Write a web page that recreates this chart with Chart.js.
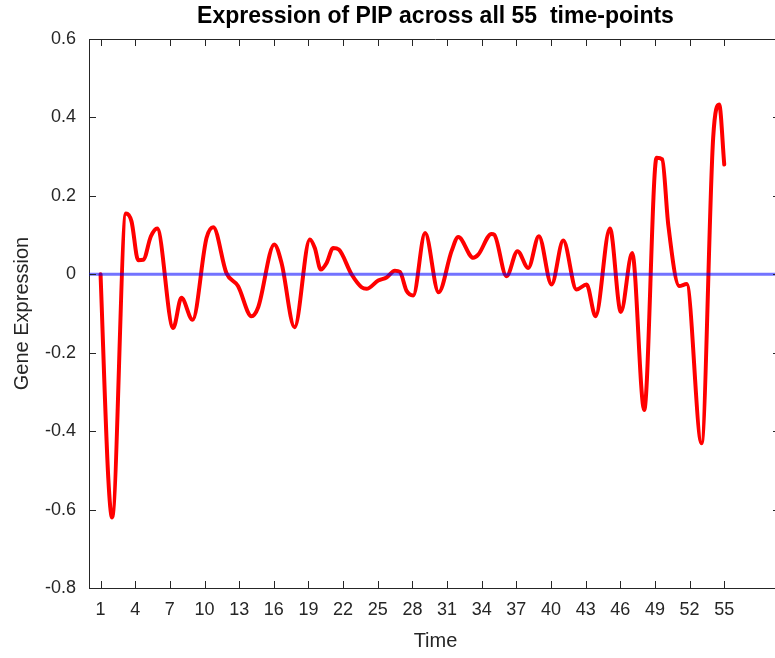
<!DOCTYPE html>
<html>
<head>
<meta charset="utf-8">
<script src="https://cdn.jsdelivr.net/npm/chart.js@4.4.0/dist/chart.umd.min.js"></script>
<style>
  html, body { margin: 0; padding: 0; background: #fff; overflow: hidden; }
  #wrap { width: 783px; height: 658px; }
</style>
</head>
<body>
<div id="wrap"><canvas id="myChart" width="783" height="658"></canvas></div>
<script>
// time points (at its turning points) and gene expression values
const timePoints = [1, 1.67, 2, 3.2, 3.68, 4.26, 4.7, 5.36, 5.9, 7.29, 8.0, 8.97, 10.18, 10.76, 11.9, 12.9,
  14.07, 14.65, 16.04, 16.67, 17.8, 19.12, 19.55, 20.07, 20.57, 21.14, 21.63, 22.73, 23.6, 24.03, 25.04,
  25.76, 26.48, 26.92, 27.49, 28.07, 29.1, 30.27, 31.39, 31.97, 33.27, 33.7, 34.85, 35.09, 36.15, 37.1,
  38.03, 38.95, 40.05, 41.06, 42.21, 43.08, 43.86, 45.1, 46.05, 47.03, 48.07, 49.14, 49.63, 50.15, 51.1,
  51.75, 53.03, 54.04, 54.56, 55]
const expression = [0, -0.52, -0.62, 0.155, 0.135, 0.036, 0.037, 0.097, 0.117, -0.137, -0.06, -0.116, 0.093, 0.12, 0.003, -0.03,
  -0.107, -0.084, 0.076, 0.029, -0.135, 0.089, 0.067, 0.012, 0.029, 0.067, 0.063, 0.0, -0.033, -0.037, -0.016,
  -0.008, 0.009, 0.006, -0.042, -0.054, 0.105, -0.046, 0.059, 0.095, 0.042, 0.05, 0.103, 0.101, -0.005, 0.059,
  0.016, 0.097, -0.026, 0.086, -0.039, -0.026, -0.107, 0.117, -0.096, 0.054, -0.346, 0.297, 0.293, 0.127, -0.03,
  -0.025, -0.431, 0.348, 0.433, 0.28]
const xTickLabels = [1, 4, 7, 10, 13, 16, 19, 22, 25, 28, 31, 34, 37, 40, 43, 46, 49, 52, 55]
const xMin = 0, xMax = 60
const yMin = -0.8, yMax = 0.6, yStep = 0.2
const baseline = 0

const textColor = '#262626'
const tickFont = { family: '"Liberation Sans", Arial, sans-serif', size: 18 }
const labelFont = { family: '"Liberation Sans", Arial, sans-serif', size: 20 }

// inward tick marks on all four sides plus the top/right box edges
const boxTicks = {
  id: 'boxTicks',
  afterDatasetsDraw(chart) {
    const { ctx, chartArea: a, scales: { x, y } } = chart
    const len = 7
    ctx.save()
    ctx.strokeStyle = textColor
    ctx.lineWidth = 1
    ctx.beginPath()
    ctx.moveTo(a.left, a.top + 0.5); ctx.lineTo(a.right, a.top + 0.5)
    ctx.moveTo(a.right - 0.5, a.top); ctx.lineTo(a.right - 0.5, a.bottom)
    x.ticks.forEach(t => {
      const px = Math.round(x.getPixelForValue(t.value)) + 0.5
      ctx.moveTo(px, a.bottom); ctx.lineTo(px, a.bottom - len)
      ctx.moveTo(px, a.top); ctx.lineTo(px, a.top + len)
    })
    y.ticks.forEach(t => {
      const py = Math.round(y.getPixelForValue(t.value)) + 0.5
      ctx.moveTo(a.left, py); ctx.lineTo(a.left + len, py)
      ctx.moveTo(a.right, py); ctx.lineTo(a.right - len - 2, py)
    })
    ctx.stroke()
    ctx.restore()
  }
}

new Chart(document.getElementById('myChart'), {
  type: 'line',
  data: {
    datasets: [{
      data: [{ x: xMin, y: baseline }, { x: xMax, y: baseline }],
      borderColor: 'rgba(0,0,255,0.55)',
      borderWidth: 3,
      pointRadius: 0,
      order: 0
    }, {
      data: timePoints.map((t, i) => ({ x: t, y: expression[i] })),
      borderColor: '#ff0000',
      borderWidth: 4,
      pointRadius: 0,
      cubicInterpolationMode: 'monotone',
      borderJoinStyle: 'round',
      borderCapStyle: 'round',
      order: 1
    }]
  },
  options: {
    responsive: false,
    animation: false,
    layout: { padding: { left: 0, right: 1, top: 0, bottom: 0 } },
    plugins: {
      legend: { display: false },
      tooltip: { enabled: false },
      title: {
        display: true,
        text: 'Expression of PIP across all 55  time-points',
        color: '#000',
        fullSize: false,
        font: { family: '"Liberation Sans", Arial, sans-serif', size: 23, weight: 'bold' },
        padding: { top: 3.2, bottom: 8.2 }
      }
    },
    scales: {
      x: {
        type: 'linear',
        min: xMin,
        max: xMax,
        afterBuildTicks: s => { s.ticks = xTickLabels.map(v => ({ value: v })) },
        afterFit: s => { s.height = 70 },
        ticks: { autoSkip: false, maxRotation: 0, color: textColor, font: tickFont, padding: 11 },
        grid: { display: true, drawOnChartArea: false, drawTicks: false },
        border: { display: true, color: textColor, width: 1 },
        title: { display: true, text: 'Time', color: textColor, font: labelFont, padding: { top: 0, bottom: 5 } }
      },
      y: {
        min: yMin,
        max: yMax,
        afterFit: s => { s.width = 89 },
        ticks: {
          stepSize: yStep, color: textColor, font: tickFont, padding: 13,
          callback: v => Math.abs(v) < 1e-9 ? '0' : String(+v.toFixed(1))
        },
        grid: { display: true, drawOnChartArea: false, drawTicks: false },
        border: { display: true, color: textColor, width: 1 },
        title: { display: true, text: 'Gene Expression', color: textColor, font: labelFont, padding: { top: 10, bottom: 0 } }
      }
    }
  },
  plugins: [boxTicks]
})
</script>
</body>
</html>
